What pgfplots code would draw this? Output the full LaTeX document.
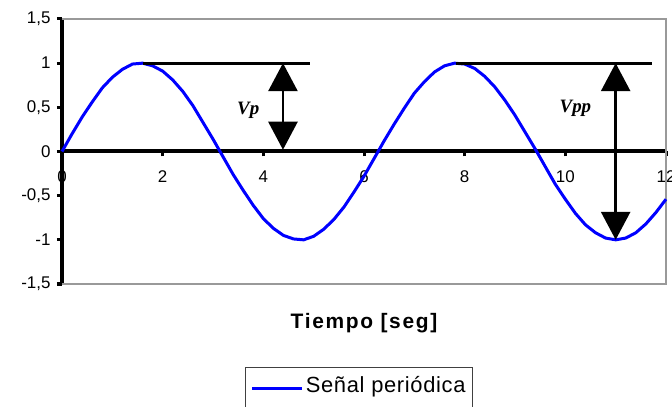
\documentclass[border=0pt]{standalone}
\usepackage{fontspec}
\setmainfont{Liberation Sans}
\newfontfamily\annotfont{Liberation Serif}
\usepackage{pgfplots}
\pgfplotsset{compat=1.18}
\usetikzlibrary{arrows.meta}

\pgfplotstableread{
t     v
0.0   0.00
0.2   0.20
0.4   0.39
0.6   0.56
0.8   0.72
1.0   0.84
1.2   0.93
1.4   0.99
1.6   1.00
1.8   0.97
2.0   0.91
2.2   0.81
2.4   0.68
2.6   0.52
2.8   0.33
3.0   0.14
3.2  -0.06
3.4  -0.26
3.6  -0.44
3.8  -0.61
4.0  -0.76
4.2  -0.87
4.4  -0.95
4.6  -0.99
4.8  -1.00
5.0  -0.96
5.2  -0.88
5.4  -0.77
5.6  -0.63
5.8  -0.46
6.0  -0.28
6.2  -0.08
6.4   0.12
6.6   0.31
6.8   0.49
7.0   0.66
7.2   0.79
7.4   0.90
7.6   0.97
7.8   1.00
8.0   0.99
8.2   0.94
8.4   0.85
8.6   0.73
8.8   0.58
9.0   0.41
9.2   0.22
9.4   0.03
9.6  -0.17
9.8  -0.37
10.0 -0.54
10.2 -0.70
10.4 -0.83
10.6 -0.92
10.8 -0.98
11.0 -1.00
11.2 -0.98
11.4 -0.92
11.6 -0.82
11.8 -0.69
12.0 -0.54
}\signal

\begin{document}
\begin{tikzpicture}
\path[use as bounding box] (0,0) rectangle (672bp,407bp);
\begin{axis}[
  at={(62bp,123bp)}, anchor=south west,
  scale only axis, width=604bp, height=265bp,
  xmin=0, xmax=12, ymin=-1.5, ymax=1.5,
  axis x line=middle, axis y line=left,
  axis line style={line width=4bp, -},
  xtick={0,2,...,12}, ytick={-1.5,-1,...,1.5},
  hide obscured x ticks=false,
  tick align=outside,
  major tick length=5bp,
  tick style={black, line width=3bp},
  /pgf/number format/.cd, use comma, assume math mode=true,
  /pgfplots/.cd,
  ticklabel style={font=\fontsize{17}{17}\selectfont},
  yticklabel style={xshift=-3bp},
  xticklabel style={yshift=-11bp},
  xlabel={Tiempo [seg]},
  xlabel style={at={(axis description cs:0.5,-0.147)}, anchor=center,
    font=\fontsize{21}{21}\selectfont\bfseries\addfontfeature{LetterSpace=8}},
  legend style={at={(axis description cs:0.3025,-0.313)}, anchor=north west,
    draw=black!75, line width=1.3bp, inner xsep=5bp, inner ysep=7bp,
    nodes={text depth=14bp},
    font=\fontsize{22}{22}\selectfont\addfontfeature{LetterSpace=3}},
  legend image code/.code={\draw[blue, line width=3.5bp] (0bp,3bp) -- (50bp,3bp);},
  clip=false,
]
% plot-area frame (top, right, bottom)
\draw[black!40, line width=1.2bp] (rel axis cs:0,0) -- (rel axis cs:1,0)
  -- (rel axis cs:1,1) -- (rel axis cs:0,1);
\addplot[blue, line width=3bp] table[x=t, y=v] {\signal};
\addlegendentry{Señal periódica}
% peak reference lines
\draw[black, line width=3bp] (axis cs:1.6,1) -- (axis cs:4.92,1);
\draw[black, line width=3bp] (axis cs:7.82,1) -- (axis cs:11.73,1);
% amplitude arrows
\draw[line width=2.6bp, {Triangle[width=29bp,length=28bp]}-{Triangle[width=29bp,length=28bp]}]
  (axis cs:4.39,1) -- (axis cs:4.39,0.02);
\draw[line width=2.6bp, {Triangle[width=29bp,length=28bp]}-{Triangle[width=29bp,length=28bp]}]
  (axis cs:11.0,1) -- (axis cs:11.0,-1);
\node[font=\annotfont\bfseries\itshape\fontsize{19}{19}\selectfont] at (axis cs:3.7,0.47) {Vp};
\node[font=\annotfont\bfseries\itshape\fontsize{19}{19}\selectfont] at (axis cs:10.2,0.49) {Vpp};
\end{axis}
\end{tikzpicture}
\end{document}
